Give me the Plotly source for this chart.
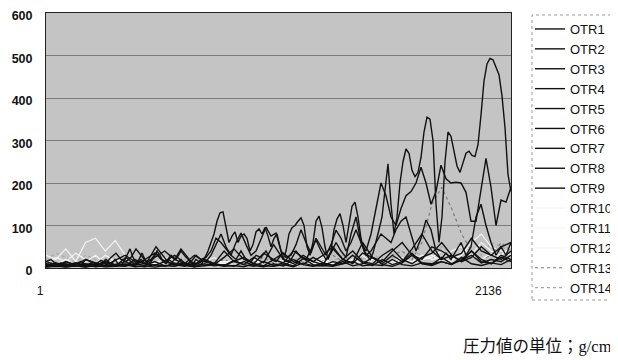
import numpy as np
import plotly.graph_objects as go

# ---- data (pressure in g/cm^2) ----
x_first, x_last = 1, 2136
series_names = [f"OTR{i}" for i in range(1, 15)]

otr1 = [10, 8, 5, 12, 8, 5, 10, 6, 4, 8, 5, 10, 6, 4, 8, 12, 6, 4, 10, 15,
        8, 5, 12, 20, 10, 6, 15, 30, 45, 25, 12, 20, 35, 20, 10, 15, 25, 40, 30, 15,
        10, 20, 15, 8, 12, 20, 10, 8, 15, 10, 20, 15, 10, 25, 40, 60, 80, 110, 130, 132,
        100, 60, 75, 85, 60, 75, 80, 70, 40, 55, 85, 92, 80, 95, 75, 50, 70, 80, 50, 20,
        40, 80, 95, 100, 110, 118, 100, 50, 30, 60, 110, 122, 95, 50, 20, 40, 90, 115, 128, 100,
        60, 100, 145, 155, 120, 70, 40, 30, 20, 35, 60, 90, 120, 190, 245, 150, 80, 120, 200, 250,
        280, 270, 230, 215, 225, 260, 320, 355, 350, 300, 150, 60, 120, 250, 320, 310, 270, 240, 225, 250,
        270, 275, 265, 262, 290, 360, 440, 480, 493, 490, 470, 455, 405, 330, 220, 180]

otr2 = [15, 20, 10, 8, 15, 10, 12, 8, 20, 15, 10, 18, 12, 25, 35, 20, 15, 25, 45, 30,
        15, 20, 35, 20, 15, 30, 20, 40, 25, 15, 30, 20, 25, 40, 70, 60, 45, 30, 60, 82,
        55, 30, 40, 70, 96, 75, 82, 40, 25, 30, 55, 90, 60, 35, 70, 50, 30, 55, 89, 70,
        40, 60, 90, 60, 40, 80, 140, 200, 170, 120, 100, 140, 170, 180, 200, 237, 200, 150, 180, 242,
        210, 200, 202, 200, 178, 110, 110, 180, 258, 190, 100, 160, 155, 190]

otr3 = [5, 10, 5, 12, 6, 4, 10, 15, 8, 5, 12, 8, 20, 10, 6, 15, 25, 15, 8, 20,
        10, 30, 50, 35, 20, 10, 25, 45, 30, 15, 10, 20, 15, 30, 55, 80, 50, 30, 20, 40,
        20, 15, 30, 25, 40, 20, 15, 30, 15, 20, 40, 25, 20, 45, 66, 40, 20, 35, 60, 40,
        25, 80, 120, 60, 30, 40, 60, 80, 70, 60, 90, 110, 120, 80, 40, 70, 113, 90, 40, 20,
        35, 20, 40, 60, 30, 50, 120, 150, 100, 60, 30, 50, 30, 60]

otr4 = [10, 5, 15, 8, 20, 12, 6, 18, 30, 15, 10, 25, 40, 20, 10, 30, 15, 8, 25, 45,
        20, 10, 35, 20, 12, 40, 25, 15, 30, 50, 20, 10, 35, 25, 15, 40, 60, 30, 20, 50,
        40, 25, 35, 70, 40, 30, 50, 60]
otr5 = [5, 12, 8, 4, 10, 6, 15, 8, 5, 20, 10, 6, 15, 30, 12, 8, 20, 10, 6, 15,
        25, 10, 5, 20, 35, 15, 8, 25, 12, 6, 20, 40, 15, 10, 30, 45, 20, 10, 25, 35,
        60, 30, 15, 40, 20, 10, 30, 20]
otr6 = [15, 8, 5, 12, 6, 10, 4, 8, 15, 6, 20, 35, 15, 8, 12, 5, 20, 10, 40, 15,
        8, 25, 12, 55, 20, 10, 30, 15, 8, 45, 20, 12, 60, 25, 10, 30, 15, 45, 80, 40,
        20, 30, 15, 25, 50, 30, 20, 40]
otr7 = [3, 6, 2, 5, 8, 3, 6, 4, 10, 5, 3, 8, 4, 12, 6, 3, 10, 5, 8, 4,
        15, 6, 3, 10, 5, 20, 8, 4, 12, 6, 15, 5, 10, 25, 8, 4, 12, 30, 10, 6,
        15, 8, 20, 40, 15, 10, 25, 15]
otr8 = [8, 4, 10, 5, 3, 8, 12, 5, 4, 10, 6, 15, 5, 8, 4, 12, 6, 10, 5, 18,
        8, 4, 15, 6, 12, 5, 22, 8, 6, 15, 10, 30, 12, 6, 20, 8, 15, 35, 12, 8,
        25, 10, 18, 30, 12, 20, 15, 30]
otr9 = [2, 4, 3, 5, 2, 6, 3, 4, 8, 3, 5, 2, 6, 4, 10, 3, 5, 8, 4, 6,
        3, 10, 5, 4, 8, 3, 12, 5, 6, 4, 10, 15, 5, 8, 6, 20, 8, 5, 12, 10,
        15, 8, 25, 10, 6, 12, 8, 20]
otr10 = [30, 20, 45, 15, 60, 70, 40, 65, 30, 20, 15, 10, 25, 15, 8, 12, 20, 10, 15, 8,
         12, 20, 10, 6, 15, 8, 12, 10, 20, 8, 15, 10, 12, 20, 8, 15, 25, 10, 20, 30,
         15, 40, 50, 30, 60, 40, 30, 50]
otr11 = [10, 25, 15, 35, 20, 10, 30, 15, 10, 20, 8, 15, 10, 20, 12, 8, 15, 25, 10, 12,
         18, 8, 15, 10, 20, 12, 8, 15, 25, 10, 20, 15, 30, 12, 20, 10, 15, 35, 20, 25,
         40, 20, 30, 60, 80, 50, 40, 30]
otr12 = [5, 10, 20, 8, 15, 30, 10, 20, 12, 8, 15, 10, 6, 12, 8, 15, 10, 6, 12, 20,
         8, 10, 15, 6, 12, 8, 20, 10, 15, 8, 12, 20, 10, 25, 15, 10, 20, 15, 30, 20,
         25, 15, 40, 30, 20, 35, 25, 20]
otr13 = [12, 8, 15, 10, 6, 12, 20, 10, 8, 15, 10, 6, 12, 18, 10, 8, 15, 12, 20, 10,
         8, 15, 25, 12, 10, 20, 15, 8, 18, 30, 15, 10, 25, 20, 12, 30, 40, 20, 60, 150,
         190, 140, 80, 40, 20, 30, 60, 40]
otr14 = [20, 35, 25, 15, 30, 20, 10, 15, 25, 10, 20, 15, 8, 12, 20, 10, 15, 25, 12, 8,
         20, 15, 10, 18, 12, 25, 15, 10, 20, 15, 30, 12, 20, 35, 15, 25, 20, 40, 30, 20,
         50, 35, 25, 45, 30, 60, 50, 40]

y_ticks = [0, 100, 200, 300, 400, 500, 600]
x_tick_labels = ["1", "2136"]
unit_note = "圧力値の単位；g/cm"

all_values = [otr1, otr2, otr3, otr4, otr5, otr6, otr7, otr8, otr9,
              otr10, otr11, otr12, otr13, otr14]

# ---- styles ----
styles = {}
for i in range(9):
    styles[i] = dict(color="#111111", width=1.4, dash="solid")
for i in (9, 10, 11):
    styles[i] = dict(color="#f4f4f4", width=1.2, dash="solid")
styles[12] = dict(color="#7a7a7a", width=1.2, dash="dot")
styles[13] = dict(color="#a8a8a8", width=1.2, dash="dot")

fig = go.Figure()
# draw in reverse so black lines end up on top; legendrank keeps OTR1..14 order
for i in reversed(range(14)):
    vals = all_values[i]
    xs = np.linspace(x_first, x_last, len(vals))
    fig.add_trace(go.Scatter(
        x=xs, y=vals, mode="lines", name=series_names[i],
        legendrank=i + 1,
        line=dict(**styles[i]),
    ))

# the page body has an 8px margin, so the figure is 8px smaller and
# page positions are converted to figure positions with OFF
OFF = 8
W, H = 618 - OFF, 360 - OFF
L, R, T, B = 46 - OFF, W - (511 - OFF), 13 - OFF, H - (268 - OFF)
pw, ph = W - L - R, H - T - B

def page_x(px):
    return (px - OFF - L) / pw

def page_y(py):
    return (H - B - (py - OFF)) / ph

font_main = "Arial, Liberation Sans, sans-serif"

fig.update_layout(
    width=W, height=H,
    margin=dict(l=L, r=R, t=T, b=B, pad=0, autoexpand=False),
    paper_bgcolor="#ffffff",
    plot_bgcolor="#c4c4c4",
    showlegend=True,
    legend=dict(
        traceorder="normal",
        font=dict(family=font_main, size=13, color="#111111"),
        bgcolor="rgba(0,0,0,0)",
        borderwidth=0,
        xref="container", yref="container",
        x=(530 - OFF) / W, xanchor="left",
        y=1 - (14 - OFF) / H, yanchor="top",
        maxheight=1,
    ),
    xaxis=dict(
        range=[x_first, x_last],
        tickmode="array",
        tickvals=[x_first, x_last],
        ticktext=[x_tick_labels[0], x_tick_labels[1] + "\u00a0" * 10],
        ticklabelshift=-6,
        ticks="", ticklabelstandoff=12,
        ticklabeloverflow="allow",
        showgrid=False, zeroline=False,
        showline=True, linecolor="#222222", linewidth=1, mirror=True,
        tickfont=dict(family=font_main, size=12, color="#111111"),
    ),
    yaxis=dict(
        range=[0, 600],
        tickmode="array", tickvals=y_ticks,
        ticks="", ticklabelstandoff=10,
        ticklabelshift=3,
        ticklabeloverflow="allow",
        showgrid=True, gridcolor="#7c7c7c", gridwidth=1,
        zeroline=False,
        showline=True, linecolor="#222222", linewidth=1, mirror=True,
        tickfont=dict(family=font_main, size=12.5, color="#111111", weight="bold"),
    ),
    shapes=[dict(
        type="rect", xref="paper", yref="paper",
        x0=page_x(532), x1=page_x(615),
        y0=page_y(300), y1=page_y(15),
        line=dict(color="#9a9a9a", width=1, dash="dot"),
        fillcolor="rgba(0,0,0,0)", layer="below",
    )],
    annotations=[dict(
        text=unit_note, xref="paper", yref="paper",
        x=page_x(614), xanchor="right",
        y=page_y(346), yanchor="middle",
        showarrow=False,
        font=dict(family="Liberation Serif, Noto Sans CJK JP, serif", size=16.5, color="#111111"),
    )],
)

fig.write_html("out.html")
